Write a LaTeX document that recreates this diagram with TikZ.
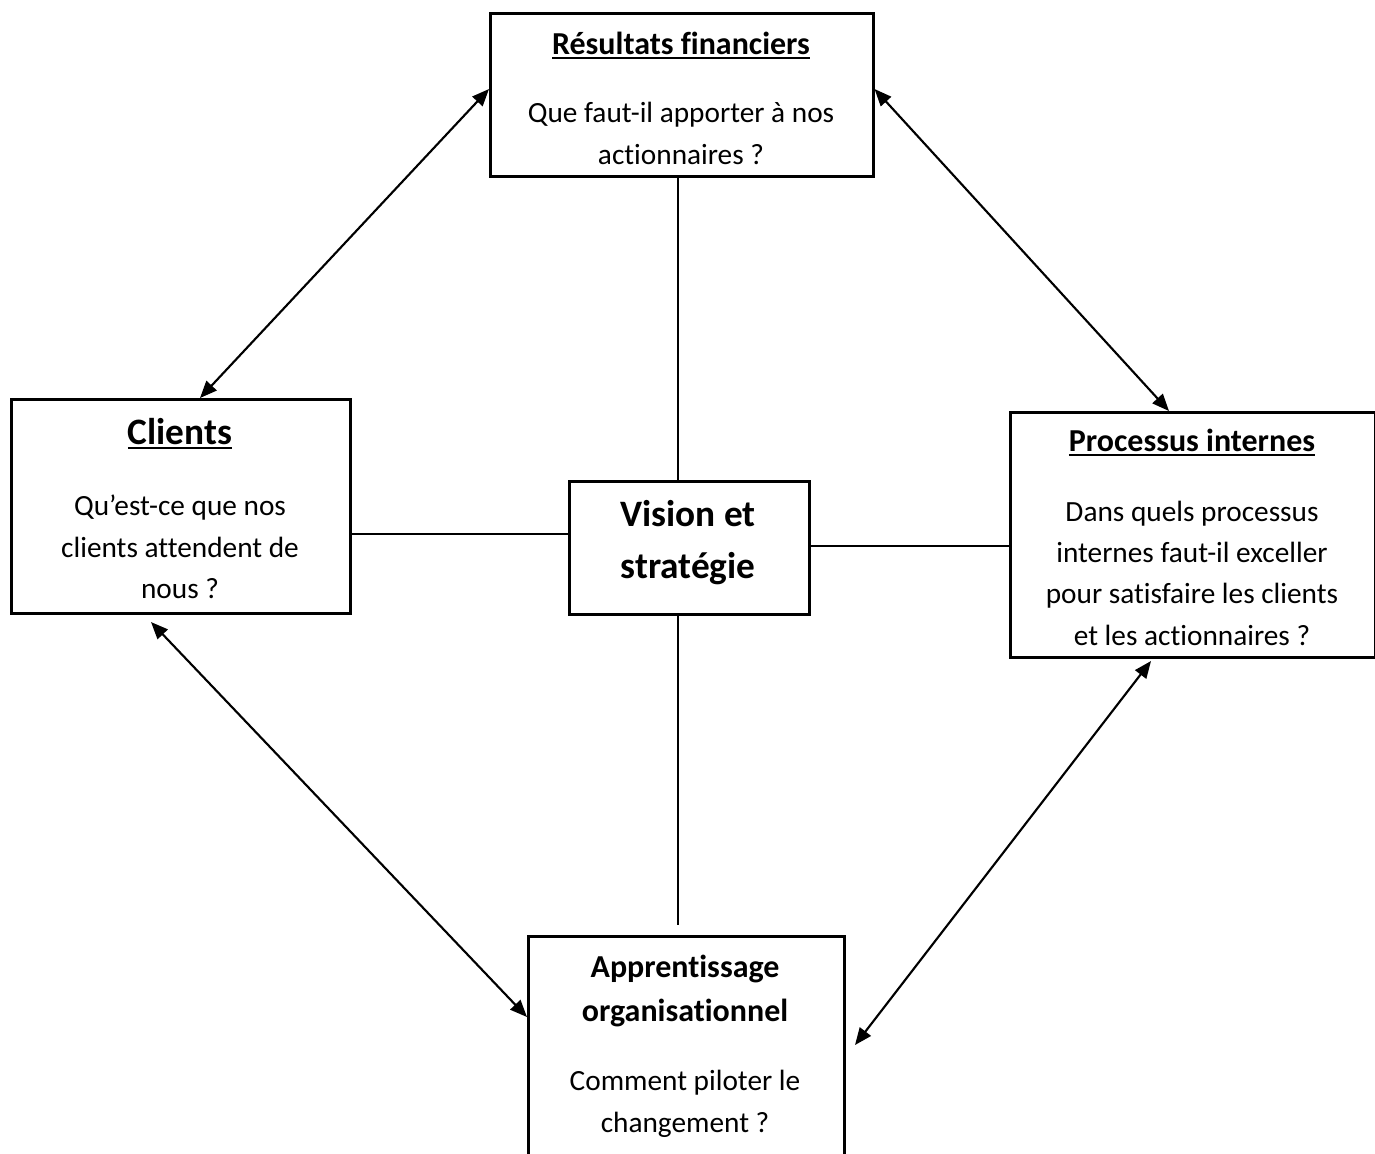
\documentclass[tikz,border=0pt]{standalone}
\usepackage{fontspec}
\setmainfont{Carlito}[Ligatures=NoCommon]
\usetikzlibrary{arrows.meta}
\begin{document}
\begin{tikzpicture}[x=0.3754pt,y=-0.3754pt,
  panel/.style={draw,line width=0.95pt,rectangle,inner sep=0pt,anchor=north west},
  body/.style={anchor=base,inner sep=0pt,font=\fontsize{11}{14}\selectfont},
  head/.style={anchor=base,inner sep=0pt,font=\fontsize{12}{15}\selectfont\bfseries},
  bighead/.style={anchor=base,inner sep=0pt,font=\fontsize{14}{17}\selectfont\bfseries},
  link/.style={line width=0.8pt},
  twoway/.style={line width=0.8pt,
    {Triangle[length=6.4pt,width=5.2pt]}-{Triangle[length=6.4pt,width=5.2pt]}}]
\useasboundingbox (0,0) rectangle (1375,1153);
\clip (0,0) rectangle (1375,1153);

% the five panels
\node[panel,minimum width=143.78pt,minimum height=61.19pt] (fin) at (489,12) {};
\node[panel,minimum width=127.26pt,minimum height=80.34pt] (cli) at (10,398) {};
\node[panel,minimum width=137.02pt,minimum height=91.97pt] (pro) at (1009,411) {};
\node[panel,minimum width=90.10pt,minimum height=49.93pt] (vis) at (568,480) {};
\node[panel,minimum width=118.63pt,minimum height=93.85pt] (app) at (527,935) {};

% texts
\node[head] (finh) at (681,54) {\underline{Résultats financiers}};
\node[body] (fin1) at (681,122) {Que faut-il apporter à nos};
\node[body] (fin2) at (681,164) {actionnaires ?};

\node[bighead] (clih) at (180,444) {\underline{Clients}};
\node[body] (cli1) at (180,515) {Qu’est-ce que nos};
\node[body] (cli2) at (180,557) {clients attendent de};
\node[body] (cli3) at (180,598) {nous ?};

\node[head] (proh) at (1192,451) {\underline{Processus internes}};
\node[body] (pro1) at (1192,521) {Dans quels processus};
\node[body] (pro2) at (1192,562) {internes faut-il exceller};
\node[body] (pro3) at (1192,603) {pour satisfaire les clients};
\node[body] (pro4) at (1192,645) {et les actionnaires ?};

\node[bighead] (vis1) at (688,526) {Vision et};
\node[bighead] (vis2) at (688,578) {stratégie};

\node[head] (apph1) at (685,977) {Apprentissage};
\node[head] (apph2) at (685,1021) {organisationnel};
\node[body] (app1) at (685,1090) {Comment piloter le};
\node[body] (app2) at (685,1132) {changement ?};

% helper coordinates for connector ends
\coordinate (vx) at (678,0);
\coordinate (hy1) at (0,534);
\coordinate (hy2) at (0,546);
\coordinate (vend) at (678,925);
\coordinate (ay) at (0,89);
\coordinate (cx) at (200,0);
\coordinate (px) at (1169,0);
\coordinate (cliS) at (151,622);
\coordinate (ly) at (0,1017);
\coordinate (proS) at (1151,661);
\coordinate (appE) at (855,1045);

% plain links to the centre
\draw[link] (fin.south -| vx) -- (vis.north -| vx);
\draw[link] (vis.south -| vx) -- (vend);
\draw[link] (cli.east |- hy1) -- (vis.west |- hy1);
\draw[link] (vis.east |- hy2) -- (pro.west |- hy2);

% two-way arrows around the ring
\draw[twoway] (fin.west |- ay) -- (cli.north -| cx);
\draw[twoway] (fin.east |- ay) -- (pro.north -| px);
\draw[twoway] (cliS) -- (app.west |- ly);
\draw[twoway] (proS) -- (appE);
\end{tikzpicture}
\end{document}
